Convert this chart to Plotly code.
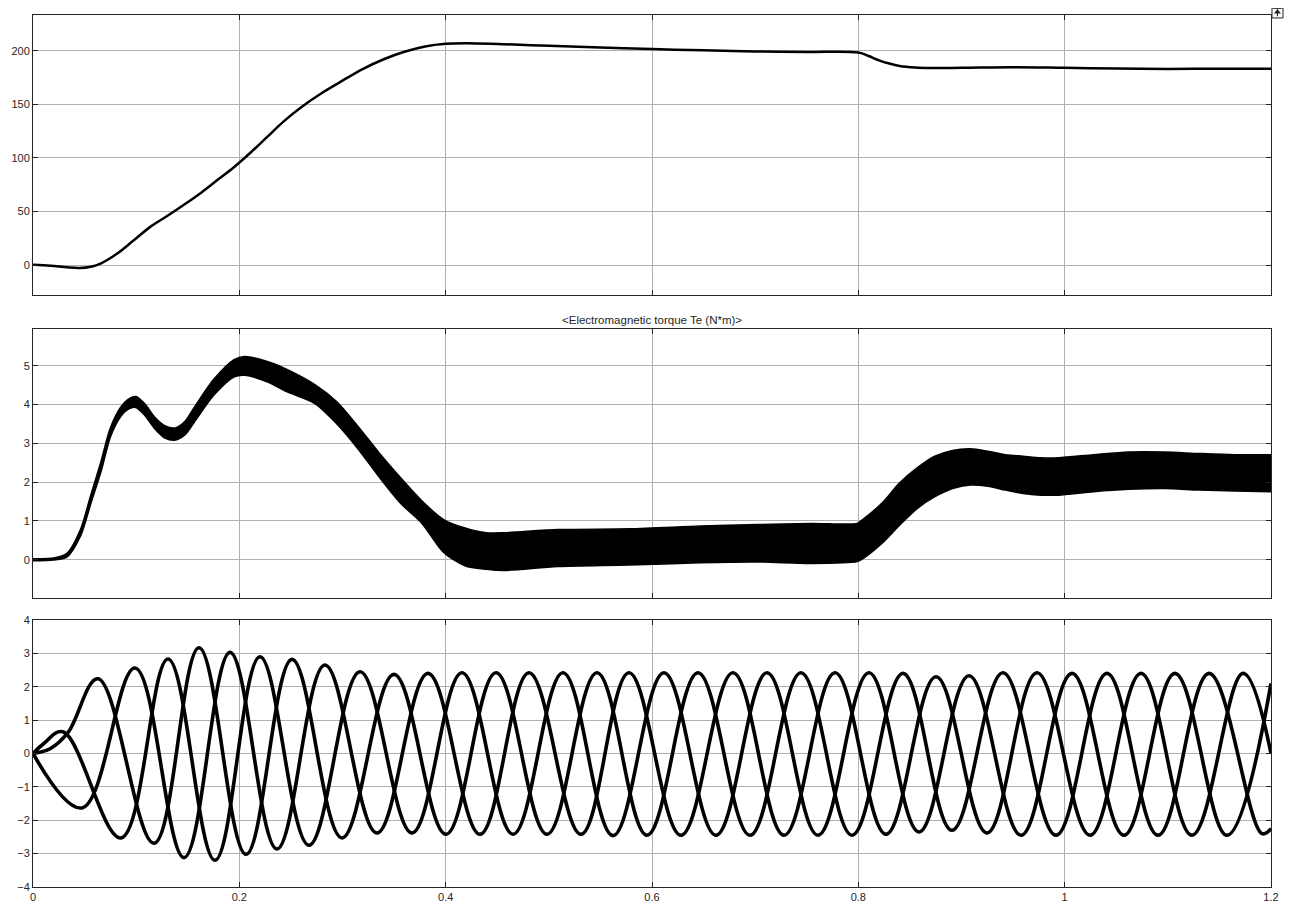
import plotly.graph_objects as go

# ---------------- data ----------------
# Top panel: rotor speed
speed_t = [0, 0.017, 0.033, 0.045, 0.056, 0.066, 0.082, 0.098, 0.114, 0.130, 0.146, 0.163,
           0.179, 0.195, 0.211, 0.227, 0.243, 0.259, 0.28, 0.30, 0.32, 0.34, 0.36, 0.38,
           0.40, 0.42, 0.45, 0.50, 0.55, 0.60, 0.65, 0.70, 0.75, 0.80, 0.81, 0.82, 0.83,
           0.84, 0.855, 0.87, 0.90, 0.95, 1.0, 1.05, 1.1, 1.15, 1.2]
speed_v = [0.3, -0.6, -2.2, -2.8, -1.6, 1.6, 10.9, 23.3, 35.8, 45.7, 56, 67.5,
           79.5, 91.5, 105, 119.5, 134, 146.5, 160.5, 172, 183, 192, 199, 204,
           206.5, 207, 206.3, 204.5, 203, 201.5, 200.3, 199.3, 198.8, 198.3, 195, 191, 188,
           185.8, 184.3, 183.8, 184, 184.6, 184, 183.3, 183, 183.2, 183.2]

# Middle panel: electromagnetic torque ripple band (upper / lower envelope)
te_t = [0, 0.02, 0.033, 0.046, 0.056, 0.066, 0.075, 0.085, 0.092, 0.0995, 0.108, 0.1175,
        0.128, 0.138, 0.147, 0.156, 0.175, 0.195, 0.205, 0.227, 0.2465, 0.2734, 0.2941,
        0.3149, 0.3356, 0.3564, 0.3772, 0.3979, 0.4187, 0.4394, 0.4567, 0.5087, 0.5779,
        0.6471, 0.7024, 0.7545, 0.799, 0.8024, 0.8229, 0.84, 0.8571, 0.8742, 0.8913,
        0.9084, 0.9255, 0.9426, 0.9597, 0.9768, 0.9938, 1.028, 1.0622, 1.0964, 1.1306,
        1.1648, 1.2]
te_upper = [0.02, 0.04, 0.16, 0.76, 1.64, 2.52, 3.38, 3.92, 4.12, 4.2, 4.02, 3.68,
            3.44, 3.39, 3.55, 3.9, 4.63, 5.15, 5.23, 5.1, 4.89, 4.5, 4.07,
            3.43, 2.74, 2.1, 1.5, 1.03, 0.81, 0.69, 0.69, 0.77, 0.79,
            0.86, 0.9, 0.93, 0.93, 0.99, 1.45, 1.97, 2.36, 2.66, 2.81,
            2.85, 2.79, 2.7, 2.66, 2.62, 2.62, 2.7, 2.77, 2.77, 2.73,
            2.7, 2.7]
te_lower = [-0.02, 0.0, 0.08, 0.62, 1.46, 2.3, 3.18, 3.7, 3.88, 3.93, 3.74, 3.4,
            3.14, 3.09, 3.22, 3.54, 4.24, 4.72, 4.76, 4.59, 4.33, 4.03, 3.52,
            2.87, 2.14, 1.46, 0.94, 0.2, -0.15, -0.24, -0.27, -0.17, -0.13,
            -0.07, -0.05, -0.09, -0.04, 0.0, 0.43, 0.9, 1.33, 1.63, 1.84,
            1.93, 1.9, 1.8, 1.71, 1.67, 1.67, 1.76, 1.82, 1.84, 1.8,
            1.78, 1.76]

# Bottom panel: three-phase stator currents (extrema)
ia_t = [0, 0.0105, 0.029, 0.0853, 0.1309, 0.1764, 0.2200, 0.2675, 0.3170, 0.3674, 0.4158,
        0.4653, 0.5137, 0.5622, 0.6116, 0.6620, 0.7115, 0.7609, 0.8103, 0.8588, 0.9073,
        0.9577, 1.0071, 1.0575, 1.1069, 1.1573, 1.2]
ia_v = [0, 0.3, 0.65, -2.53, 2.83, -3.2, 2.9, -2.75, 2.45, -2.38, 2.42,
        -2.42, 2.42, -2.46, 2.42, -2.45, 2.42, -2.45, 2.42, -2.35, 2.33,
        -2.45, 2.4, -2.45, 2.4, -2.45, 2.1]
ib_t = [0, 0.0475, 0.0989, 0.1464, 0.1910, 0.2365, 0.2830, 0.3334, 0.3829, 0.4333, 0.4808,
        0.5312, 0.5777, 0.6281, 0.6785, 0.7280, 0.7774, 0.8268, 0.8753, 0.9247, 0.9732,
        1.0246, 1.0740, 1.1234, 1.1729, 1.2]
ib_v = [0, -1.63, 2.56, -3.12, 3.03, -2.86, 2.65, -2.38, 2.4, -2.42, 2.42,
        -2.42, 2.42, -2.45, 2.42, -2.45, 2.42, -2.42, 2.3, -2.38, 2.42,
        -2.45, 2.4, -2.45, 2.4, 0.0]
ic_t = [0, 0.017, 0.034, 0.0630, 0.1173, 0.1609, 0.2065, 0.2511, 0.2995, 0.3499, 0.4003,
        0.4488, 0.4982, 0.5467, 0.5952, 0.6446, 0.6950, 0.7444, 0.7939, 0.8433, 0.8908,
        0.9402, 0.9916, 1.0410, 1.0905, 1.1399, 1.1913, 1.2]
ic_v = [0, 0.15, 0.63, 2.24, -2.69, 3.17, -3.02, 2.82, -2.53, 2.37, -2.42,
        2.42, -2.42, 2.42, -2.45, 2.42, -2.45, 2.42, -2.45, 2.4, -2.3,
        2.42, -2.45, 2.4, -2.45, 2.4, -2.4, -2.25]

x_ticks = [0, 0.2, 0.4, 0.6, 0.8, 1.0, 1.2]
torque_title = "&lt;Electromagnetic torque Te (N*m)&gt;"

# ---------------- figure ----------------
fig = go.Figure()

fig.add_trace(go.Scatter(x=speed_t, y=speed_v, mode="lines",
                         line=dict(color="black", width=2.5, shape="spline", smoothing=1.0),
                         xaxis="x", yaxis="y", showlegend=False, hoverinfo="skip"))

fig.add_trace(go.Scatter(x=te_t, y=te_upper, mode="lines",
                         line=dict(color="black", width=2, shape="spline", smoothing=0.8),
                         xaxis="x2", yaxis="y2", showlegend=False, hoverinfo="skip"))
fig.add_trace(go.Scatter(x=te_t, y=te_lower, mode="lines", fill="tonexty", fillcolor="black",
                         line=dict(color="black", width=2, shape="spline", smoothing=0.8),
                         xaxis="x2", yaxis="y2", showlegend=False, hoverinfo="skip"))

for tt, vv in [(ia_t, ia_v), (ib_t, ib_v), (ic_t, ic_v)]:
    fig.add_trace(go.Scatter(x=tt, y=vv, mode="lines",
                             line=dict(color="black", width=3.6, shape="spline", smoothing=1.1),
                             xaxis="x3", yaxis="y3", showlegend=False, hoverinfo="skip"))

font = dict(family="Liberation Sans, Arial, Helvetica, sans-serif", size=11, color="#262626")
title_font = dict(family="Liberation Sans, Arial, Helvetica, sans-serif", size=11.5, color="#262626")
axis_common = dict(showline=True, linecolor="#262626", linewidth=1, mirror="ticks",
                   ticks="inside", ticklen=5, tickcolor="#262626", tickwidth=1,
                   showgrid=True, gridcolor="#b0b0b0", gridwidth=1, zeroline=False,
                   tickfont=font, fixedrange=True, automargin=False)

xa = dict(range=[0, 1.2], tickvals=x_ticks, domain=[0, 1], **axis_common)

icon_line = dict(color="#262626", width=1)
fig.update_layout(
    width=1287, height=900,
    margin=dict(l=25, r=24, t=7, b=21),
    paper_bgcolor="white", plot_bgcolor="white",
    xaxis=dict(anchor="y", showticklabels=False, **xa),
    xaxis2=dict(anchor="y2", showticklabels=False, **xa),
    xaxis3=dict(anchor="y3", showticklabels=True, **xa),
    yaxis=dict(anchor="x", domain=[0.6789, 1.0], range=[-28, 233.3], tick0=0, dtick=50, **axis_common),
    yaxis2=dict(anchor="x2", domain=[0.3314, 0.6399], range=[-0.986, 5.944], tick0=0, dtick=1, **axis_common),
    yaxis3=dict(anchor="x3", domain=[0, 0.3062], range=[-4, 4], tick0=0, dtick=1, **axis_common),
    annotations=[dict(text=torque_title, xref="paper", yref="paper", x=0.5, y=0.6502,
                      xanchor="center", yanchor="middle", showarrow=False, font=title_font)],
    shapes=[
        dict(type="rect", xref="paper", yref="paper", x0=1.0008, x1=1.0097, y0=0.9966, y1=1.008,
             line=icon_line, fillcolor="white"),
        dict(type="path", xref="paper", yref="paper", xsizemode="pixel", ysizemode="pixel",
             xanchor=1.0052, yanchor=1.002,
             path="M -3,0 L 3,0 L 0,4 Z", fillcolor="#262626", line=dict(color="#262626", width=0.5)),
        dict(type="path", xref="paper", yref="paper", xsizemode="pixel", ysizemode="pixel",
             xanchor=1.0052, yanchor=1.002,
             path="M 0,-3 L 0,1", line=dict(color="#262626", width=1.2)),
        dict(type="path", xref="paper", yref="paper", xsizemode="pixel", ysizemode="pixel",
             xanchor=1.0052, yanchor=1.002,
             path="M -4,5 L 4,5", line=icon_line),
    ],
)

fig.write_html("out.html")
